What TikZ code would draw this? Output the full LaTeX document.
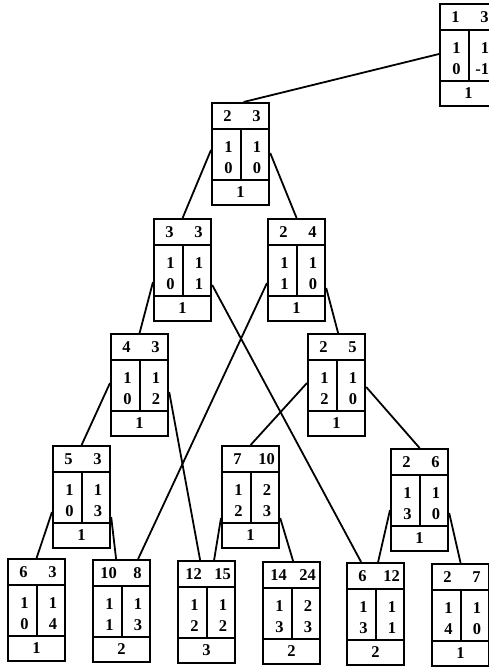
\documentclass[tikz,border=0pt]{standalone}
\usepackage{fontspec}
\setmainfont{Liberation Serif}
\tikzset{
  tbox/.style={draw, line width=2.2pt, minimum width=57pt, minimum height=102pt, inner sep=0pt, anchor=north west},
  divline/.style={line width=1.9pt},
  num/.style={inner sep=0pt, font=\fontsize{16.5}{18}\selectfont\bfseries},
  conn/.style={line width=1.8pt}
}
\newcommand{\treebox}[9]{%
  \node[tbox] (#1) at #2 {};
  \draw[divline] ([yshift=-27pt]#1.north west) -- ([yshift=-27pt]#1.north east);
  \draw[divline] ([yshift=-78pt]#1.north west) -- ([yshift=-78pt]#1.north east);
  \draw[divline] ([yshift=-27pt]#1.north) -- ([yshift=-78pt]#1.north);
  \node[num] (#1-h1) at ([xshift=-13pt,yshift=-14pt]#1.north) {#3};
  \node[num] (#1-h2) at ([xshift=16pt,yshift=-14pt]#1.north) {#4};
  \node[num] (#1-a) at ([xshift=-12pt,yshift=-45pt]#1.north) {#5};
  \node[num] (#1-b) at ([xshift=16.5pt,yshift=-45pt]#1.north) {#6};
  \node[num] (#1-c) at ([xshift=-12pt,yshift=-66pt]#1.north) {#7};
  \node[num] (#1-d) at ([xshift=16.5pt,yshift=-66pt]#1.north) {#8};
  \node[num] (#1-f) at ([yshift=-90pt]#1.north) {#9};
}
\begin{document}
\begin{tikzpicture}[x=1pt,y=-1pt]
\useasboundingbox (0,0) rectangle (489,667);
\clip (0,0) rectangle (489,667);
% level 0-2
\treebox{b1}{(439,3)}{1}{3}{1}{1}{0}{\llap{-}1}{1}
\treebox{b2}{(211,102)}{2}{3}{1}{1}{0}{0}{1}
\treebox{b3}{(153,218)}{3}{3}{1}{1}{0}{1}{1}
\treebox{b4}{(267,218)}{2}{4}{1}{1}{1}{0}{1}
\treebox{b5}{(110,333)}{4}{3}{1}{1}{0}{2}{1}
\treebox{b6}{(307,333)}{2}{5}{1}{1}{2}{0}{1}
\treebox{b7}{(52,445)}{5}{3}{1}{1}{0}{3}{1}
\treebox{b8}{(221,445)}{7}{10}{1}{2}{2}{3}{1}
\treebox{b9}{(390,448)}{2}{6}{1}{1}{3}{0}{1}
% bottom row
\treebox{c1}{(7,558)}{6}{3}{1}{1}{0}{4}{1}
\treebox{c2}{(92,559)}{10}{8}{1}{1}{1}{3}{2}
\treebox{c3}{(177,560)}{12}{15}{1}{1}{2}{2}{3}
\treebox{c4}{(262,561)}{14}{24}{1}{2}{3}{3}{2}
\treebox{c5}{(346,562)}{6}{12}{1}{1}{3}{1}{2}
\treebox{c6}{(431,563)}{2}{7}{1}{1}{4}{0}{1}
% connectors
\draw[conn] ([yshift=-51pt]b1.north west) -- ([xshift=3pt]b2.north);
\draw[conn] ([yshift=-48pt]b2.north west) -- (b3.north);
\draw[conn] ([yshift=-51pt]b2.north east) -- (b4.north);
\draw[conn] ([yshift=-64pt]b3.north west) -- (b5.north);
\draw[conn] ([yshift=-67pt]b3.north east) -- ([xshift=-14.5pt]c5.north);
\draw[conn] ([yshift=-65pt]b4.north west) -- ([xshift=16.5pt]c2.north);
\draw[conn] ([yshift=-70pt]b4.north east) -- ([xshift=1.5pt]b6.north);
\draw[conn] ([yshift=-50pt]b5.north west) -- (b7.north);
\draw[conn] ([yshift=-59pt]b5.north east) -- ([xshift=-6.5pt]c3.north);
\draw[conn] ([yshift=-50pt]b6.north west) -- (b8.north);
\draw[conn] ([yshift=-54pt]b6.north east) -- (b9.north);
\draw[conn] ([yshift=-67pt]b7.north west) -- (c1.north);
\draw[conn] ([yshift=-72pt]b7.north east) -- ([xshift=-5.5pt]c2.north);
\draw[conn] ([yshift=-73pt]b8.north west) -- ([xshift=7.5pt]c3.north);
\draw[conn] ([yshift=-73pt]b8.north east) -- ([xshift=1.5pt]c4.north);
\draw[conn] ([yshift=-62pt]b9.north west) -- ([xshift=2.5pt]c5.north);
\draw[conn] ([yshift=-65pt]b9.north east) -- (c6.north);
\end{tikzpicture}
\end{document}
